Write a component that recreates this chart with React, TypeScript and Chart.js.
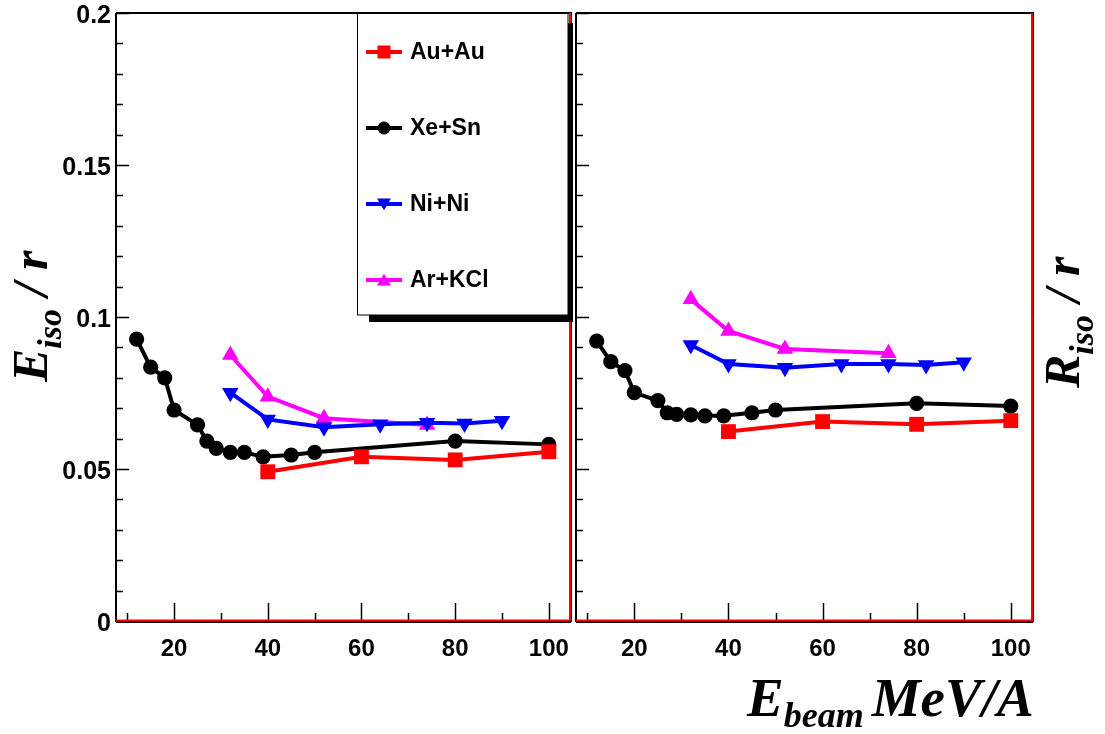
import React, { useEffect, useRef } from 'react';
import { Chart, registerables } from 'chart.js';

Chart.register(...registerables);

// Beam energies (MeV/A) per system
const auAuEnergy = [40, 60, 80, 100];
const xeSnEnergy = [12, 15, 18, 20, 25, 27, 29, 32, 35, 39, 45, 50, 80, 100];
const niNiEnergy = [32, 40, 52, 64, 74, 82, 90];
const arKclEnergy = [32, 40, 52, 74];

// Left panel: E_iso / r
const auAuEiso = [0.0491, 0.054, 0.053, 0.0557];
const xeSnEiso = [0.0927, 0.0835, 0.08, 0.0694, 0.0645, 0.0592, 0.0568, 0.0555, 0.0555, 0.054, 0.0546, 0.0555, 0.0592, 0.0581];
const niNiEiso = [0.0751, 0.0663, 0.0637, 0.0647, 0.0652, 0.065, 0.0659];
const arKclEiso = [0.0875, 0.0738, 0.0667, 0.0645];

// Right panel: R_iso / r
const auAuRiso = [0.0623, 0.0656, 0.0647, 0.0659];
const xeSnRiso = [0.0921, 0.0853, 0.0824, 0.0751, 0.0725, 0.0685, 0.068, 0.0678, 0.0675, 0.0675, 0.0685, 0.0694, 0.0716, 0.0707];
const niNiRiso = [0.0908, 0.0845, 0.0833, 0.0845, 0.0845, 0.0842, 0.0851];
const arKclRiso = [0.1058, 0.0954, 0.0895, 0.0881];

const systemNames = ['Au+Au', 'Xe+Sn', 'Ni+Ni', 'Ar+KCl'];
const systemColors = ['#ff0000', '#000000', '#0000ff', '#ff00ff'];

// Axis ticks
const xTickValues = [10, 20, 30, 40, 50, 60, 70, 80, 90, 100];
const xTickLabels = ['', '20', '', '40', '', '60', '', '80', '', '100'];
const yTickValues = [0, 0.01, 0.02, 0.03, 0.04, 0.05, 0.06, 0.07, 0.08, 0.09, 0.1, 0.11, 0.12, 0.13, 0.14, 0.15, 0.16, 0.17, 0.18, 0.19, 0.2];
const yTickLabels = ['0', '', '', '', '', '0.05', '', '', '', '', '0.1', '', '', '', '', '0.15', '', '', '', '', '0.2'];

const yMin = 0;
const yMax = 0.2;
const xMin = 7.6;
const xMax = 104.3;

const W = 1105;
const H = 734;
const SANS = '"Liberation Sans", Arial, sans-serif';
const SERIF = '"Liberation Serif", "Times New Roman", serif';

function pairs(xs: number[], ys: number[]) {
  return xs.map((x, i) => ({ x, y: ys[i] }));
}

function makeDatasets(au: number[], xe: number[], ni: number[], ar: number[]) {
  return [
    {
      label: systemNames[0],
      data: pairs(auAuEnergy, au),
      borderColor: systemColors[0],
      backgroundColor: systemColors[0],
      pointStyle: 'rect',
      pointRadius: 10.5,
      borderWidth: 4,
      pointBorderWidth: 0,
    },
    {
      label: systemNames[2],
      data: pairs(niNiEnergy, ni),
      borderColor: systemColors[2],
      backgroundColor: systemColors[2],
      pointStyle: 'triangle',
      pointRotation: 180,
      pointRadius: 9.5,
      borderWidth: 4,
      pointBorderWidth: 0,
    },
    {
      label: systemNames[1],
      data: pairs(xeSnEnergy, xe),
      borderColor: systemColors[1],
      backgroundColor: systemColors[1],
      pointStyle: 'circle',
      pointRadius: 7.6,
      borderWidth: 4,
      pointBorderWidth: 0,
    },
    {
      label: systemNames[3],
      data: pairs(arKclEnergy, ar),
      borderColor: systemColors[3],
      backgroundColor: systemColors[3],
      pointStyle: 'triangle',
      pointRadius: 9.5,
      borderWidth: 4,
      pointBorderWidth: 0,
    },
  ];
}

function drawFrameAndTicks(chart: any) {
  const ctx = chart.ctx as CanvasRenderingContext2D;
  const { left, right, top, bottom } = chart.chartArea;
  const xs = chart.scales.x;
  const ys = chart.scales.y;
  ctx.save();
  // ticks (inside)
  ctx.strokeStyle = '#000';
  ctx.lineWidth = 1.5;
  ctx.beginPath();
  yTickValues.forEach((v, i) => {
    const py = Math.round(ys.getPixelForValue(v)) + 0.5;
    const len = i % 5 === 0 ? 13 : 7;
    ctx.moveTo(left, py);
    ctx.lineTo(left + len, py);
  });
  xTickValues.forEach((v, i) => {
    const px = Math.round(xs.getPixelForValue(v)) + 0.5;
    const len = i % 2 === 1 ? 18 : 8;
    ctx.moveTo(px, bottom);
    ctx.lineTo(px, bottom - len);
  });
  ctx.stroke();
  // black frame
  ctx.lineWidth = 2;
  ctx.beginPath();
  ctx.moveTo(left, top);
  ctx.lineTo(right + 3, top);
  ctx.moveTo(left, top);
  ctx.lineTo(left, bottom + 1);
  ctx.moveTo(left, bottom + 1);
  ctx.lineTo(right + 2, bottom + 1);
  ctx.stroke();
  ctx.lineWidth = 1;
  ctx.beginPath();
  ctx.moveTo(right + 2.5, top);
  ctx.lineTo(right + 2.5, bottom + 1);
  ctx.stroke();
  // red frame
  ctx.strokeStyle = '#ff0000';
  ctx.lineWidth = 2;
  ctx.beginPath();
  ctx.moveTo(left, bottom - 0.5);
  ctx.lineTo(right + 1, bottom - 0.5);
  ctx.moveTo(right + 1, top);
  ctx.lineTo(right + 1, bottom);
  ctx.stroke();
  ctx.restore();
}

function drawMarker(ctx: CanvasRenderingContext2D, style: string, x: number, y: number, r: number) {
  ctx.beginPath();
  if (style === 'rect') {
    ctx.rect(x - r, y - r, 2 * r, 2 * r);
  } else if (style === 'circle') {
    ctx.arc(x, y, r, 0, Math.PI * 2);
  } else if (style === 'down') {
    ctx.moveTo(x - r, y - r * 0.8);
    ctx.lineTo(x + r, y - r * 0.8);
    ctx.lineTo(x, y + r * 0.9);
    ctx.closePath();
  } else {
    ctx.moveTo(x - r, y + r * 0.8);
    ctx.lineTo(x + r, y + r * 0.8);
    ctx.lineTo(x, y - r * 0.9);
    ctx.closePath();
  }
  ctx.fill();
}

function drawLegend(ctx: CanvasRenderingContext2D) {
  ctx.save();
  // shadow
  ctx.fillStyle = '#000';
  ctx.fillRect(369, 315, 204, 7);
  ctx.fillRect(568, 23, 5, 299);
  // box
  ctx.fillStyle = '#fff';
  ctx.fillRect(357, 13, 211, 302);
  ctx.strokeStyle = '#000';
  ctx.lineWidth = 1;
  ctx.strokeRect(357.5, 13.5, 210.5, 301.5);
  const styles = ['rect', 'circle', 'down', 'up'];
  const sizes = [6.5, 6.5, 7, 7];
  ctx.font = `bold 23px ${SANS}`;
  ctx.textBaseline = 'middle';
  ctx.textAlign = 'left';
  for (let i = 0; i < 4; i++) {
    const y = 52 + i * 76;
    ctx.strokeStyle = systemColors[i];
    ctx.fillStyle = systemColors[i];
    ctx.lineWidth = 4;
    ctx.beginPath();
    ctx.moveTo(366, y);
    ctx.lineTo(402, y);
    ctx.stroke();
    drawMarker(ctx, styles[i], 384, y, sizes[i]);
    ctx.fillStyle = '#000';
    ctx.fillText(systemNames[i], 410, y + 1);
  }
  ctx.restore();
}

function drawRotatedTitle(ctx: CanvasRenderingContext2D, main: string, sub: string, rest: string, baseX: number, startY: number) {
  ctx.save();
  ctx.translate(baseX, startY);
  ctx.rotate(-Math.PI / 2);
  ctx.fillStyle = '#000';
  ctx.textBaseline = 'alphabetic';
  ctx.textAlign = 'left';
  ctx.font = `italic bold 50px ${SERIF}`;
  ctx.fillText(main, 0, 0);
  let x = ctx.measureText(main).width;
  ctx.font = `italic bold 34px ${SERIF}`;
  ctx.fillText(sub, x, 14);
  x += ctx.measureText(sub).width;
  ctx.font = `italic bold 50px ${SERIF}`;
  ctx.fillText(rest, x, 0);
  ctx.restore();
}

function drawXTitle(ctx: CanvasRenderingContext2D) {
  ctx.save();
  ctx.fillStyle = '#000';
  ctx.textBaseline = 'alphabetic';
  ctx.textAlign = 'left';
  ctx.font = `italic bold 55px ${SERIF}`;
  ctx.fillText('E', 747, 716);
  let x = 747 + ctx.measureText('E').width;
  ctx.font = `italic bold 36px ${SERIF}`;
  ctx.fillText('beam', x, 727);
  x += ctx.measureText('beam').width + 8;
  ctx.font = `italic bold 55px ${SERIF}`;
  ctx.fillText('MeV/A', x, 716);
  ctx.restore();
}

function baseOptions(side: 'left' | 'right') {
  return {
    responsive: false,
    devicePixelRatio: 1,
    animation: false,
    layout: {
      padding: side === 'left'
        ? { left: 0, top: 13, right: W - 569, bottom: 0 }
        : { left: 576, top: 13, right: W - 1031, bottom: 0 },
    },
    plugins: { legend: { display: false }, tooltip: { enabled: false } },
    elements: { line: { tension: 0 } },
    scales: {
      x: {
        type: 'linear',
        min: xMin,
        max: xMax,
        afterBuildTicks: (s: any) => { s.ticks = xTickValues.map((value) => ({ value })); },
        afterFit: (s: any) => { s.height = H - 621; s.paddingLeft = 0; s.paddingRight = 0; },
        grid: { display: false, drawTicks: false },
        border: { display: false },
        ticks: {
          autoSkip: false,
          maxRotation: 0,
          padding: 14,
          color: '#000',
          font: { family: SANS, size: 24, weight: 'bold' },
          callback: (_v: number, i: number) => xTickLabels[i],
        },
      },
      y: {
        type: 'linear',
        min: yMin,
        max: yMax,
        display: side === 'left',
        afterBuildTicks: (s: any) => { s.ticks = yTickValues.map((value) => ({ value })); },
        afterFit: (s: any) => { s.width = side === 'left' ? 116 : 0; s.paddingTop = 0; s.paddingBottom = 0; },
        grid: { display: false, drawTicks: false },
        border: { display: false },
        ticks: {
          autoSkip: false,
          padding: 5,
          labelOffset: 3,
          color: '#000',
          font: { family: SANS, size: 25, weight: 'bold' },
          callback: (_v: number, i: number) => yTickLabels[i],
        },
      },
    },
  };
}

export default function App() {
  const leftRef = useRef<HTMLCanvasElement>(null);
  const rightRef = useRef<HTMLCanvasElement>(null);

  useEffect(() => {
    const leftChart = new Chart(leftRef.current as HTMLCanvasElement, {
      type: 'line',
      data: { datasets: makeDatasets(auAuEiso, xeSnEiso, niNiEiso, arKclEiso) as any },
      options: baseOptions('left') as any,
      plugins: [
        {
          id: 'leftDecor',
          beforeDatasetsDraw(chart: any) {
            drawFrameAndTicks(chart);
          },
          afterDatasetsDraw(chart: any) {
            const ctx = chart.ctx as CanvasRenderingContext2D;
            drawLegend(ctx);
            drawRotatedTitle(ctx, 'E', 'iso', ' / r', 47, 382);
          },
        },
      ],
    });
    const rightChart = new Chart(rightRef.current as HTMLCanvasElement, {
      type: 'line',
      data: { datasets: makeDatasets(auAuRiso, xeSnRiso, niNiRiso, arKclRiso) as any },
      options: baseOptions('right') as any,
      plugins: [
        {
          id: 'rightDecor',
          beforeDatasetsDraw(chart: any) {
            drawFrameAndTicks(chart);
          },
          afterDatasetsDraw(chart: any) {
            const ctx = chart.ctx as CanvasRenderingContext2D;
            drawRotatedTitle(ctx, 'R', 'iso', ' / r', 1079, 388);
            drawXTitle(ctx);
          },
        },
      ],
    });
    return () => {
      leftChart.destroy();
      rightChart.destroy();
    };
  }, []);

  const canvasStyle: React.CSSProperties = { position: 'absolute', left: 0, top: 0, display: 'block' };
  return (
    <div style={{ position: 'absolute', left: 0, top: 0, width: W, height: H, background: '#fff' }}>
      <canvas ref={leftRef} width={W} height={H} style={canvasStyle} />
      <canvas ref={rightRef} width={W} height={H} style={canvasStyle} />
    </div>
  );
}
